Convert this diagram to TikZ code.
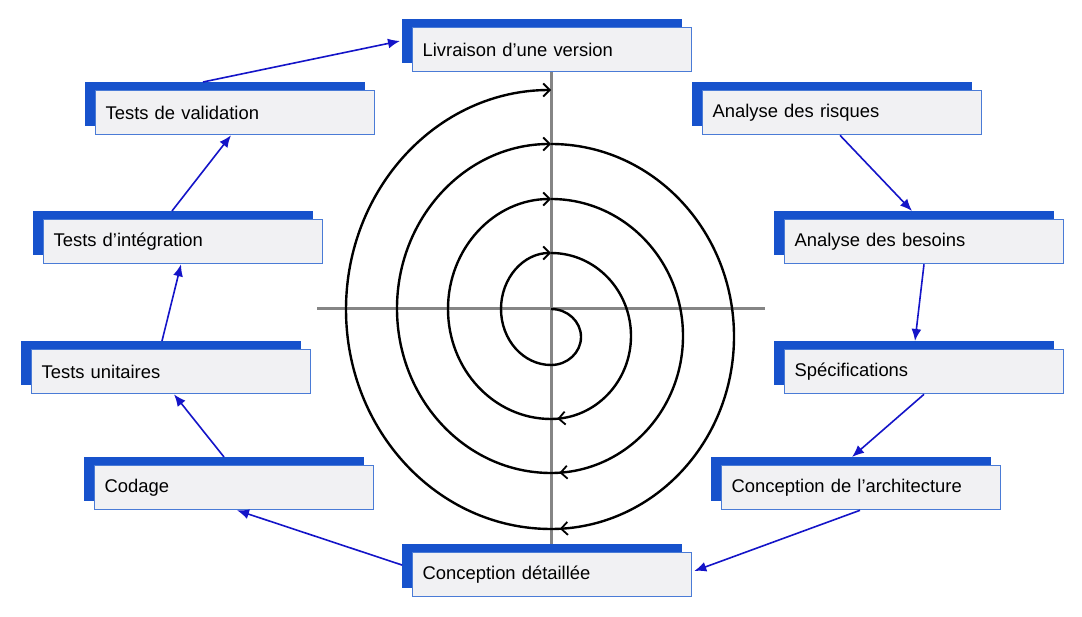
\documentclass[tikz,border=0pt]{standalone}
\usepackage{fontspec}
\setmainfont{Liberation Sans}
\usetikzlibrary{arrows.meta,decorations.markings}
\definecolor{backblue}{HTML}{1752CC}
\definecolor{edgeblue}{HTML}{4A7BD6}
\definecolor{boxfill}{HTML}{F1F1F3}
\definecolor{linkblue}{HTML}{1414C8}
\definecolor{axisgray}{HTML}{858585}
\tikzset{
  backbox/.style={fill=backblue, draw=none, minimum width=280pt, minimum height=44pt, anchor=north west, inner sep=0pt},
  frontbox/.style={fill=boxfill, draw=edgeblue, line width=1.3pt, minimum width=279pt, minimum height=44pt, anchor=north west, inner xsep=10pt, inner ysep=0pt, text width=259pt, align=left, font=\fontsize{18.4pt}{20pt}\selectfont},
  link/.style={draw=linkblue, line width=1.6pt, -{Latex[length=12pt,width=10pt]}},
  spir/.style={draw=black, line width=2.4pt},
  barb/.style={-{Straight Barb[length=6.5pt,width=13pt,line width=1.8pt]}},
  botbarb/.style={postaction={decorate}, decoration={markings, mark=at position #1 with {\arrow{Straight Barb[length=6.5pt,width=13pt,line width=1.8pt]}}}},
  axis/.style={draw=axisgray, line width=3pt}
}
\begin{document}
\begin{tikzpicture}[x=1pt,y=-1pt]
\useasboundingbox[fill=white] (0,0) rectangle (1082,617);
% axes
\coordinate (vt) at (551,60);
\coordinate (vb) at (551,550);
\coordinate (hl) at (317,309);
\coordinate (hr) at (765,309);
\draw[axis] (vt) -- (vb);
\draw[axis] (hl) -- (hr);
% spiral
\coordinate (s0) at (551,309);
\coordinate (s1) at (551,365);
\coordinate (s2) at (551,253);
\coordinate (s3) at (551,419);
\coordinate (s4) at (551,199);
\coordinate (s5) at (551,473);
\coordinate (s6) at (551,144);
\coordinate (s7) at (551,529);
\draw[spir] (s0) arc[start angle=90, end angle=-90, x radius=30pt, y radius=28pt];
\draw[spir,barb] (s1) arc[start angle=-90, end angle=-270, x radius=50pt, y radius=56pt];
\draw[spir,botbarb=0.975] (s2) arc[start angle=90, end angle=-90, x radius=80pt, y radius=83pt];
\draw[spir,barb] (s3) arc[start angle=-90, end angle=-270, x radius=103pt, y radius=110pt];
\draw[spir,botbarb=0.98] (s4) arc[start angle=90, end angle=-90, x radius=132pt, y radius=137pt];
\draw[spir,barb] (s5) arc[start angle=-90, end angle=-270, x radius=154pt, y radius=164.5pt];
\draw[spir,botbarb=0.985] (s6) arc[start angle=90, end angle=-90, x radius=183pt, y radius=192.5pt];
\draw[spir,barb] (s7) arc[start angle=-90, end angle=-270, x radius=205pt, y radius=219.5pt];
% boxes
\node[backbox] (livrB) at (402,19) {};
\node[frontbox] (livr) at (412,27) {Livraison d’une version};
\node[backbox] (risqB) at (692,82) {};
\node[frontbox] (risq) at (702,90) {Analyse des risques};
\node[backbox] (besB) at (774,211) {};
\node[frontbox] (bes) at (784,219) {Analyse des besoins};
\node[backbox] (specB) at (774,341) {};
\node[frontbox] (spec) at (784,349) {Spécifications};
\node[backbox] (archB) at (711,457) {};
\node[frontbox] (arch) at (721,465) {Conception de l’architecture};
\node[backbox] (detB) at (402,544) {};
\node[frontbox] (det) at (412,552) {Conception détaillée};
\node[backbox] (codB) at (84,457) {};
\node[frontbox] (cod) at (94,465) {Codage};
\node[backbox] (tuB) at (21,341) {};
\node[frontbox] (tu) at (31,349) {Tests unitaires};
\node[backbox] (tiB) at (33,211) {};
\node[frontbox] (ti) at (43,219) {Tests d’intégration};
\node[backbox] (tvB) at (85,82) {};
\node[frontbox] (tv) at (95,90) {Tests de validation};
% connectors
\draw[link] ([shift={(118,0)}]tvB.north west) -- ([shift={(-2,22)}]livrB.north west);
\draw[link] ([shift={(138,0)}]risq.south west) -- ([shift={(138,0)}]besB.north west);
\draw[link] ([shift={(140,0)}]bes.south west) -- ([shift={(141,0)}]specB.north west);
\draw[link] ([shift={(140,0)}]spec.south west) -- ([shift={(141,0)}]archB.north west);
\draw[link] ([shift={(139,0)}]arch.south west) -- ([shift={(2,19)}]det.north east);
\draw[link] ([shift={(0,21)}]detB.north west) -- ([shift={(143,0)}]cod.south west);
\draw[link] ([shift={(140,0)}]codB.north west) -- ([shift={(143,0)}]tu.south west);
\draw[link] ([shift={(141,0)}]tuB.north west) -- ([shift={(138,0)}]ti.south west);
\draw[link] ([shift={(139,0)}]tiB.north west) -- ([shift={(136,0)}]tv.south west);
\end{tikzpicture}
\end{document}
